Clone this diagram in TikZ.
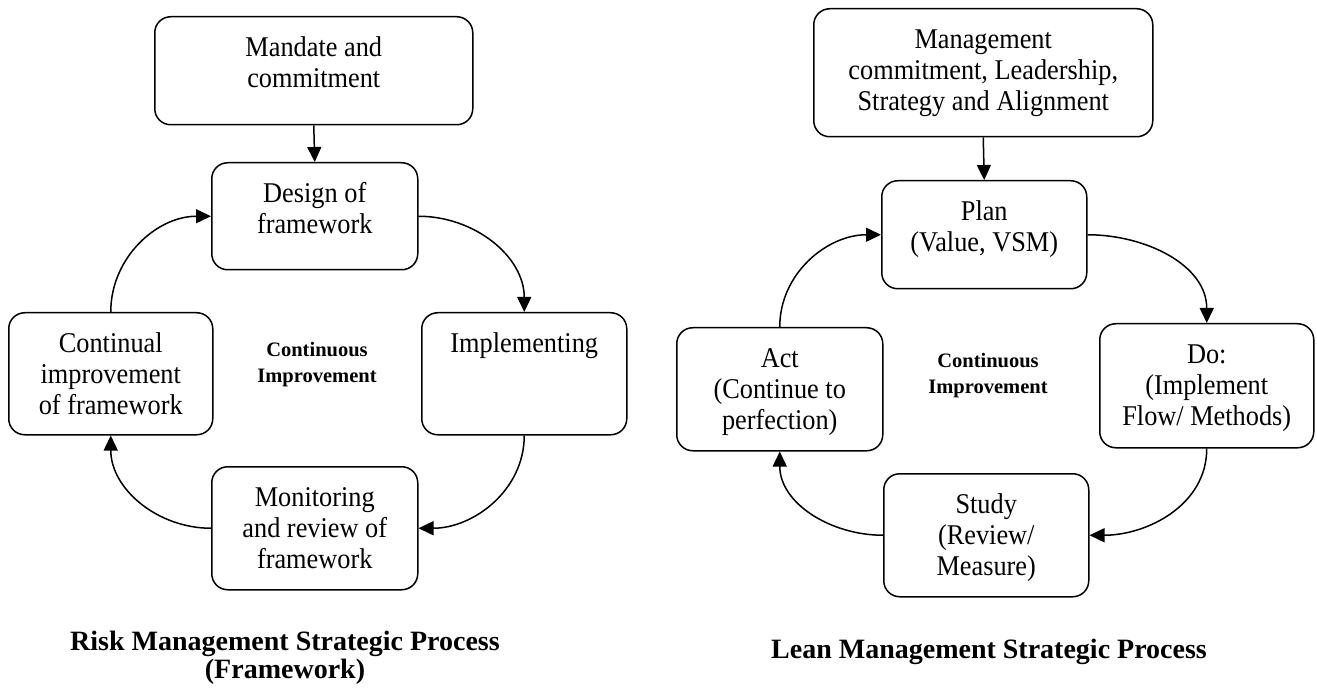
\documentclass[tikz,border=0pt]{standalone}
\usepackage{fontspec}
\setmainfont{Liberation Serif}
\newfontfamily\boxfont{Liberation Serif}[FakeStretch=0.92]
\usetikzlibrary{arrows.meta}

% text block of a box: fixed size, first line near the top
\newcommand{\stagetxt}[3]{\parbox[t][#2][t]{#1}{\centering\rule{0pt}{40pt}#3}}

\tikzset{
  stage/.style={draw, line width=1.5pt, rounded corners=16pt, inner sep=0pt,
    anchor=north west, font=\boxfont\fontsize{28.6}{31}\selectfont},
  flow/.style={line width=1.5pt, -{Triangle[length=15pt,width=14pt]}},
  midlabel/.style={anchor=base, inner sep=0pt, font=\fontsize{20.5}{26}\selectfont\bfseries},
  caption/.style={anchor=base, inner sep=0pt, font=\fontsize{28}{28}\selectfont\bfseries}
}

\begin{document}
\begin{tikzpicture}[x=1pt,y=1pt]
\useasboundingbox (0,0) rectangle (1317,689);

% Risk management cycle
\node[stage] (mandate) at (154,673) {\stagetxt{318pt}{108pt}{Mandate and\\commitment}};
\node[stage] (design) at (211,527) {\stagetxt{206pt}{107pt}{Design of\\framework}};
\node[stage] (impl) at (421,377) {\stagetxt{205pt}{122pt}{Implementing}};
\node[stage] (contin) at (8,377) {\stagetxt{204pt}{122pt}{Continual\\improvement\\of framework}};
\node[stage] (monit) at (211,223) {\stagetxt{206pt}{123pt}{Monitoring\\and review of\\framework}};

\node[midlabel] (ciLeft) at (317,332) {\parbox[t]{200pt}{\centering Continuous\\Improvement}};
\node[caption] (riskTitle) at (285,39) {\parbox[t]{520pt}{\centering Risk Management Strategic Process\\(Framework)}};

\draw[flow] (mandate.south) -- (design.north);
\draw[flow] (design.east) to[out=0,in=90] (impl.north);
\draw[flow] (impl.south) to[out=-90,in=0] (monit.east);
\draw[flow] (monit.west) to[out=180,in=-90] (contin.south);
\draw[flow] (contin.north) to[out=90,in=180] (design.west);

% Lean management cycle
\node[stage] (mgmt) at (813,681) {\stagetxt{339pt}{128pt}{Management\\commitment, Leadership,\\Strategy and Alignment}};
\node[stage] (plan) at (881,509) {\stagetxt{205pt}{108pt}{Plan\\(Value, VSM)}};
\node[stage] (doit) at (1099,366) {\stagetxt{214pt}{124pt}{Do:\\(Implement\\Flow/ Methods)}};
\node[stage] (act) at (676,362) {\stagetxt{206pt}{123pt}{Act\\(Continue to\\perfection)}};
\node[stage] (study) at (883,216) {\stagetxt{205pt}{123pt}{Study\\(Review/\\Measure)}};

\node[midlabel] (ciRight) at (988,321) {\parbox[t]{200pt}{\centering Continuous\\Improvement}};
\node[caption] (leanTitle) at (989,31) {Lean Management Strategic Process};

\draw[flow] (mgmt.south) -- (plan.north);
\draw[flow] (plan.east) to[out=0,in=90] (doit.north);
\draw[flow] (doit.south) to[out=-90,in=0] (study.east);
\draw[flow] (study.west) to[out=180,in=-90] (act.south);
\draw[flow] (act.north) to[out=90,in=180] (plan.west);

\end{tikzpicture}
\end{document}
